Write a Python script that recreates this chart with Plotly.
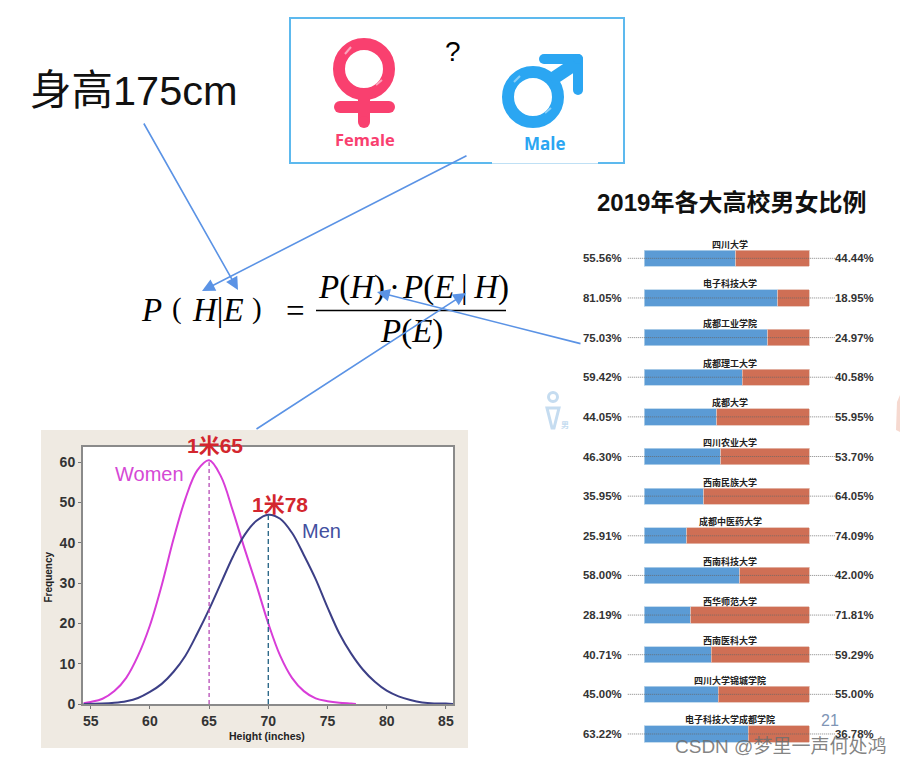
import plotly.graph_objects as go

W, H = 901, 765

# ---------- data ----------
schools = ["四川大学", "电子科技大学", "成都工业学院", "成都理工大学", "成都大学", "四川农业大学", "西南民族大学",
           "成都中医药大学", "西南科技大学", "西华师范大学", "西南医科大学", "四川大学锦城学院", "电子科技大学成都学院"]
male_pct = [55.56, 81.05, 75.03, 59.42, 44.05, 46.30, 35.95, 25.91, 58.00, 28.19, 40.71, 45.00, 63.22]
female_pct = [44.44, 18.95, 24.97, 40.58, 55.95, 53.70, 64.05, 74.09, 42.00, 71.81, 59.29, 55.00, 36.78]

women_x = [54.4, 55, 56, 57, 58, 59, 60, 61, 62, 63, 64, 65, 66, 67, 68, 69, 70, 71, 72, 73, 74, 75, 76, 77, 77.4]
women_y = [0.2, 0.5, 1.3, 3.2, 6.5, 12, 19.5, 29.5, 41, 51, 58, 60.5, 56.5, 48, 38.5, 29.5, 20, 12, 6.5, 3.2, 1.4, 0.7, 0.3, 0.1, 0]
men_x = [54.4, 56, 57, 58, 59, 60, 61, 62, 63, 64, 65, 66, 67, 68, 69, 70, 71, 72, 73, 74, 75, 76, 77, 78, 79, 80, 81, 82, 83, 84, 85, 85.6]
men_y = [0, 0.1, 0.3, 0.7, 1.5, 3, 5, 8, 12, 17.5, 23.5, 30, 36.5, 42, 45.5, 47, 46, 42.5, 37, 31, 24, 17.5, 12.5, 8.5, 5.5, 3.3, 1.9, 1, 0.4, 0.15, 0.1, 0]
x_ticks = [55, 60, 65, 70, 75, 80, 85]
y_ticks = [0, 10, 20, 30, 40, 50, 60]
mean_women = (65, 60)
mean_men = (70, 47)

# ---------- helpers ----------
PLOT_W, PLOT_H = 900, 757  # plot size left after the margins that plotly pushes (1 right, 8 bottom)
def px(x): return x / PLOT_W
def py(y): return 1 - y / PLOT_H

SANS = "Liberation Sans"
CJK = "Noto Sans CJK SC"
SERIF = "Liberation Serif"
PINK = "#F9406F"
BLUE = "#2BA6F2"
ARROW = "#5B93E5"

shapes, ann = [], []

def text(x, y, s, size, color="#000", font=SANS, anchor="center", **kw):
    ann.append(dict(x=px(x), y=py(y), xref="paper", yref="paper", text=s, showarrow=False,
                    xanchor=anchor, yanchor="middle", font=dict(family=font, size=size, color=color), **kw))

def arrow(x0, y0, x1, y1):
    ann.append(dict(x=px(x1), y=py(y1), xref="paper", yref="paper", ax=x0 - x1, ay=y0 - y1,
                    axref="pixel", ayref="pixel", text="", showarrow=True, arrowhead=2,
                    arrowsize=1.6, arrowwidth=1.6, arrowcolor=ARROW, standoff=0, startstandoff=0))

def line(x0, y0, x1, y1, color, width, **kw):
    shapes.append(dict(type="line", xref="paper", yref="paper", x0=px(x0), y0=py(y0), x1=px(x1), y1=py(y1),
                       line=dict(color=color, width=width), **kw))

def dot(cx, cy, r, color):
    shapes.append(dict(type="circle", xref="paper", yref="paper", x0=px(cx - r), x1=px(cx + r),
                       y0=py(cy + r), y1=py(cy - r), fillcolor=color, line_width=0))

def cap_line(x0, y0, x1, y1, color, width):
    line(x0, y0, x1, y1, color, width)
    dot(x0, y0, width / 2, color)
    dot(x1, y1, width / 2, color)

def ring(cx, cy, r, color, width, fill="rgba(0,0,0,0)"):
    shapes.append(dict(type="circle", xref="paper", yref="paper", x0=px(cx - r), x1=px(cx + r),
                       y0=py(cy + r), y1=py(cy - r), line=dict(color=color, width=width), fillcolor=fill))

# ---------- line chart background ----------
shapes.append(dict(type="rect", xref="paper", yref="paper", x0=px(41), x1=px(468), y0=py(748), y1=py(430),
                   fillcolor="#EFEAE2", line_width=0, layer="below"))
shapes.append(dict(type="rect", xref="paper", yref="paper", x0=px(83), x1=px(453), y0=py(704), y1=py(447),
                   fillcolor="#FFFFFF", line_width=0, layer="below"))

# ---------- box with symbols ----------
shapes.append(dict(type="rect", xref="paper", yref="paper", x0=px(290), x1=px(624), y0=py(163), y1=py(18),
                   line=dict(color="#5DB9EE", width=2)))
line(492, 163, 598, 163, "#FFFFFF", 2.5)
line(492, 163.5, 598, 163.5, "#BFE0F5", 1)

# female
ring(364, 69, 25, PINK, 12)
line(364, 95, 364, 122, PINK, 12)
cap_line(340, 107, 389, 107, PINK, 12)
dot(364, 122, 6, PINK)
line(345, 54, 351, 47, "#FBA3BB", 2)
line(376, 85, 382, 80, "#FBA3BB", 2)
text(364.5, 139, "<b>Female</b>", 16.5, PINK, "Open Sans")
# male
ring(533, 97, 25, BLUE, 12)
line(551, 80, 578, 62, BLUE, 13)
cap_line(544, 59, 578, 59, BLUE, 10)
cap_line(578, 59, 578, 90, BLUE, 10)
line(514, 82, 520, 76, "#8CD0F8", 2)
line(545, 113, 551, 108, "#8CD0F8", 2)
text(545, 143, "<b>Male</b>", 17, BLUE, "Open Sans")
text(453, 52, "?", 28)

# ---------- height text ----------
text(28, 91, "身高175cm", 41.5, "#111", SANS + ", " + CJK, anchor="left")

# ---------- formula ----------
F = 33
text(151, 310, "<i>P</i>", F, "#000", SERIF)
text(177, 308, "(", F - 4, "#000", SERIF)
text(218, 310, "<i>H</i>|<i>E</i>", F, "#000", SERIF)
text(257, 308, ")", F - 4, "#000", SERIF)
text(295, 311, "=", F, "#000", SERIF)
text(351, 287, "<i>P</i>(<i>H</i>)", F, "#000", SERIF)
text(394, 287, "·", F, "#000", SERIF)
text(455, 287, "<i>P</i>(<i>E</i>\u2009|\u2009<i>H</i>)", F, "#000", SERIF)
text(411, 331, "<i>P</i>(<i>E</i>)", F, "#000", SERIF)
line(316, 310.5, 506, 310.5, "#000", 1.6)

# ---------- arrows ----------
arrow(143, 122, 238, 290)
arrow(468, 155, 202, 291)
arrow(582, 344, 377, 292)
arrow(255, 430, 466, 293)

# ---------- bar chart title, icon ----------
text(731.5, 202, "<b>2019年各大高校男女比例</b>", 24, "#111", SANS + ", " + CJK)
ring(553, 397, 4.5, "#C5DCF0", 3)
shapes.append(dict(type="path", xref="paper", yref="paper",
                   path=f"M {px(547)} {py(408)} L {px(559)} {py(408)} L {px(554)} {py(428)} L {px(552)} {py(428)} Z",
                   line=dict(color="#C5DCF0", width=3), fillcolor="#FFFFFF"))
text(565, 424, "<b>男</b>", 8, "#C5DCF0", CJK)
shapes.append(dict(type="path", xref="paper", yref="paper",
                   path=f"M {px(900)} {py(395)} L {px(897)} {py(402)} L {px(896)} {py(430)} L {px(900)} {py(432)} Z",
                   line_width=0, fillcolor="#F6D9D0"))

# ---------- bar chart ----------
PER = 1.647
X0 = 644.3
def bx(pxv): return (pxv - X0) / PER

fig = go.Figure()
fig.add_trace(go.Bar(y=schools, x=male_pct, orientation="h", marker=dict(color="#5B9BD5", line=dict(color="#B7D3EA", width=0.8)),
                     xaxis="x2", yaxis="y2", showlegend=False))
fig.add_trace(go.Bar(y=schools, x=female_pct, orientation="h", marker=dict(color="#CF6F55", line=dict(color="#E5BDB0", width=0.8)),
                     xaxis="x2", yaxis="y2", showlegend=False))

for s, m, f in zip(schools, male_pct, female_pct):
    shapes.append(dict(type="line", xref="x2", yref="y2", x0=bx(627.8), x1=bx(835), y0=s, y1=s,
                       line=dict(color="#666", width=0.8, dash="1px,1px")))
    ann.append(dict(x=bx(730), y=s, xref="x2", yref="y2", yshift=14, text=f"<b>{s}</b>", showarrow=False, xanchor="center",
                    yanchor="middle", font=dict(family=CJK, size=9, color="#222")))
    ann.append(dict(x=bx(623.5), y=s, xref="x2", yref="y2", text=f"<b>{m:.2f}%</b>", showarrow=False, xanchor="right",
                    yanchor="middle", font=dict(family=SANS, size=11.4, color="#333")))
    ann.append(dict(x=bx(876), y=s, xref="x2", yref="y2", text=f"<b>{f:.2f}%</b>", showarrow=False, xanchor="right",
                    yanchor="middle", font=dict(family=SANS, size=11.4, color="#333")))

# ---------- line chart ----------
fig.add_trace(go.Scatter(x=women_x, y=women_y, mode="lines", line=dict(color="#D83DD8", width=2, shape="spline"),
                         xaxis="x", yaxis="y", showlegend=False))
fig.add_trace(go.Scatter(x=men_x, y=men_y, mode="lines", line=dict(color="#3C3F86", width=2, shape="spline"),
                         xaxis="x", yaxis="y", showlegend=False))
fig.add_trace(go.Scatter(x=[mean_women[0], mean_women[0]], y=[0, mean_women[1]], mode="lines",
                         line=dict(color="#B03DB0", width=1.2, dash="4px,3px"), xaxis="x", yaxis="y", showlegend=False))
fig.add_trace(go.Scatter(x=[mean_men[0], mean_men[0]], y=[0, mean_men[1]], mode="lines",
                         line=dict(color="#2F6A8A", width=1.4, dash="5px,3px"), xaxis="x", yaxis="y", showlegend=False))

for xv, yv, s, size, col in [(60.0, 57, "Women", 20, "#D548D5"), (74.5, 43, "Men", 20, "#43509F"),
                             (71, 49.6, "<b>1米78</b>", 21, "#D3262E")]:
    ann.append(dict(x=xv, y=yv, xref="x", yref="y", text=s, showarrow=False, xanchor="center",
                    yanchor="middle", font=dict(family=SANS + ", " + CJK, size=size, color=col)))
text(215, 445, "<b>1米65</b>", 21, "#D3262E", SANS + ", " + CJK)

text(47.5, 577, "<b>Frequency</b>", 10, "#222", textangle=-90)
text(267, 736, "<b>Height (inches)</b>", 10.5, "#222")

# ---------- page number, watermark ----------
text(830, 720, "21", 16, "#8095B5")
text(780, 746, "CSDN @梦里一声何处鸿", 19, "rgba(110,110,110,0.85)", SANS + ", " + CJK)

axis_line = dict(showline=True, mirror=True, linecolor="#8A8A8A", linewidth=2, showgrid=False, zeroline=False,
                 ticks="outside", ticklen=3, tickcolor="#777", tickfont=dict(family=SANS, size=14, color="#333", weight="bold"))

fig.update_layout(
    width=W, height=H, margin=dict(l=0, r=0, t=0, b=0), autosize=False,
    paper_bgcolor="#FFFFFF", plot_bgcolor="rgba(0,0,0,0)", barmode="stack", bargap=0.59, showlegend=False,
    xaxis=dict(domain=[px(83), px(453)], range=[54.35, 85.6], tickvals=x_ticks, anchor="y", **axis_line),
    yaxis=dict(domain=[py(704), py(447)], range=[0, 63.8], tickvals=y_ticks, anchor="x", **axis_line),
    xaxis2=dict(domain=[px(590), px(890)], range=[bx(590), bx(890)], visible=False, anchor="y2"),
    yaxis2=dict(domain=[py(753.8), py(238.5)], range=[len(schools) - 0.5, -0.5], visible=False, anchor="x2",
                type="category", categoryorder="array", categoryarray=schools),
    shapes=shapes, annotations=ann,
)

fig.write_html("out.html", config={"displayModeBar": False},
               post_script="document.body.style.margin='0';document.body.style.overflow='hidden';")
